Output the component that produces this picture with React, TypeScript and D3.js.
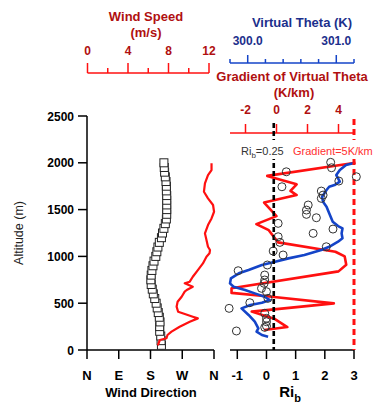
import * as d3 from "d3";
import React from "react";

// altitude (m) / wind direction (deg)
const dirAlt = [50, 100, 150, 200, 250, 300, 350, 400, 450, 500, 550, 600, 650, 700, 750, 800, 850, 900, 950, 1000, 1050, 1100, 1150, 1200, 1250, 1300, 1350, 1400, 1450, 1500, 1550, 1600, 1650, 1700, 1750, 1800, 1850, 1900, 1950, 2000];
const dirDeg = [211, 210, 209, 206, 206, 207, 205, 202, 199, 196, 192, 188, 185, 182, 181, 182, 184, 187, 190, 195, 198, 201, 205, 211, 214, 218, 222, 225, 226, 226, 226, 226, 226, 225, 225, 224, 222, 220, 219, 218];

// altitude (m) / wind speed (m/s)
const wsAlt = [50, 80, 107, 125, 160, 196, 249, 302, 338, 356, 374, 409, 463, 516, 569, 623, 641, 676, 712, 730, 783, 854, 925, 997, 1033, 1068, 1103, 1175, 1246, 1335, 1406, 1477, 1549, 1620, 1691, 1780, 1869, 1922, 1994];
const wsVal = [6.95, 7.05, 7.15, 7.8, 7.9, 8.3, 9.1, 10.1, 10.9, 10.4, 9.9, 8.95, 8.8, 8.9, 9.3, 9.6, 9.8, 10.4, 9.6, 10.1, 10.4, 10.9, 11.4, 11.75, 12.05, 12.1, 11.9, 11.75, 11.6, 11.9, 12.25, 12.5, 12.4, 11.9, 11.5, 11.6, 11.9, 12.25, 12.25];

// altitude (m) / virtual potential temperature (K)
const thAlt = [142, 160, 196, 231, 302, 374, 445, 481, 505, 534, 569, 605, 641, 676, 712, 765, 819, 854, 908, 943, 979, 1014, 1068, 1103, 1157, 1193, 1246, 1299, 1324, 1371, 1460, 1531, 1584, 1637, 1709, 1744, 1762, 1798, 1869, 1922, 1976, 2001];
const thVal = [300.23, 300.16, 300.1, 300.12, 300.08, 300.01, 299.93, 300.03, 300.16, 300.25, 300.19, 300.08, 299.97, 299.84, 299.8, 299.81, 299.9, 300.01, 300.16, 300.31, 300.46, 300.64, 300.83, 300.92, 301.02, 301.07, 301.06, 301.07, 301.02, 300.96, 300.92, 300.89, 300.85, 300.84, 300.89, 300.92, 300.98, 301.04, 301.0, 301.04, 301.11, 301.21];

// altitude (m) / gradient of virtual theta (K/km)
const grAlt = [214, 245, 330, 410, 498, 569, 610, 660, 840, 910, 1000, 1050, 1150, 1280, 1345, 1430, 1575, 1655, 1700, 1770, 1860, 2000];
const grVal = [-0.8, 0.7, -0.1, -1.6, 3.7, -0.3, -2.9, -2.9, 4.0, 4.5, 4.4, 3.8, 0.1, -0.5, -1.3, 0.0, -0.8, 1.3, 0.9, 1.3, -0.6, 5.1];

// altitude (m) / bulk Richardson number
const riAlt = [2005, 1947, 1904, 1851, 1805, 1744, 1698, 1655, 1620, 1549, 1495, 1449, 1413, 1353, 1292, 1246, 1210, 1150, 1103, 1057, 1015, 908, 847, 801, 748, 712, 659, 623, 552, 505, 445, 392, 338, 302, 256, 242, 203];
const riVal = [2.2, 2.23, 0.68, 3.08, 2.48, 0.53, 1.88, 1.94, 1.88, 1.43, 1.37, 1.37, 1.71, 0.4, 2.28, 1.6, 0.4, 0.46, 2.05, 0.23, 0.57, 0.03, -0.97, -0.06, -0.06, -0.08, -0.17, 0.0, 0.05, -0.57, -1.28, -0.06, 0.0, 0.0, 0.0, -0.06, -1.03];

const altTicks = [0, 500, 1000, 1500, 2000, 2500];
const dirTicks = [0, 90, 180, 270, 360];
const dirLabels = ["N", "E", "S", "W", "N"];
const riTicks = [-1, 0, 1, 2, 3];
const wsTicks = [0, 2, 4, 6, 8, 10, 12];
const wsLabels = [0, 4, 8, 12];
const thTicks = [299.8, 300.0, 300.2, 300.4, 300.6, 300.8, 301.0, 301.2];
const thLabels = [300.0, 301.0];
const grTicks = [-2, 0, 2, 4];
const riCrit = 0.25;
const grCrit = 5;

const FONT = "'Liberation Sans', Arial, sans-serif";
const RED = "#ff1010";
const DARKRED = "#b01010";
const BLUE = "#1444c8";
const DARKBLUE = "#1c2f8c";

export default function App() {
  const yAlt = d3.scaleLinear().domain([0, 2500]).range([350, 116]);
  const xDir = d3.scaleLinear().domain([0, 360]).range([87, 214]);
  const xWs = d3.scaleLinear().domain([0, 12]).range([87.5, 209]);
  const xRi = d3.scaleLinear().domain([-1.25, 3]).range([230, 354]);
  const xTh = d3.scaleLinear().domain([299.8, 301.2]).range([230, 354]);
  const xGr = d3.scaleLinear().domain([-3, 5]).range([230, 354]);

  const wsLine = d3.line<number>().x((d) => xWs(d)).y((_, i) => yAlt(wsAlt[i]));
  const thLine = d3.line<number>().x((d) => xTh(d)).y((_, i) => yAlt(thAlt[i]));
  const grLine = d3.line<number>().x((d) => xGr(d)).y((_, i) => yAlt(grAlt[i]));

  const yTop = 123;
  const yBase = yAlt(0);

  return (
    <div style={{ position: "absolute", left: 0, top: 0 }}>
      <svg width={379} height={405} style={{ display: "block", fontFamily: FONT }}>
        <rect width={379} height={405} fill="#fff" />

        {/* wind speed top axis */}
        <g>
          <text x={146} y={21} textAnchor="middle" fontSize={13} fontWeight="bold" fill={DARKRED}>Wind Speed</text>
          <text x={146} y={37} textAnchor="middle" fontSize={13} fontWeight="bold" fill={DARKRED}>(m/s)</text>
          <line x1={xWs(0)} x2={xWs(12)} y1={73} y2={73} stroke={RED} strokeWidth={1.5} />
          {wsTicks.map((t) => (
            <line key={t} x1={xWs(t)} x2={xWs(t)} y1={73} y2={wsLabels.includes(t) ? 63 : 68} stroke={RED} strokeWidth={1.5} />
          ))}
          {wsLabels.map((t) => (
            <text key={t} x={xWs(t)} y={55} textAnchor="middle" fontSize={12} fontWeight="bold" fill={DARKRED}>{t}</text>
          ))}
        </g>

        {/* virtual theta top axis */}
        <g>
          <text x={302} y={27} textAnchor="middle" fontSize={13} fontWeight="bold" fill={DARKBLUE}>Virtual Theta (K)</text>
          <line x1={xTh(299.8)} x2={xTh(301.2)} y1={63} y2={63} stroke={BLUE} strokeWidth={1.5} />
          {thTicks.map((t) => (
            <line key={t} x1={xTh(t)} x2={xTh(t)} y1={63} y2={thLabels.some((l) => Math.abs(l - t) < 1e-6) ? 55 : 59} stroke={BLUE} strokeWidth={1.5} />
          ))}
          {thLabels.map((t) => (
            <text key={t} x={xTh(t)} y={45} textAnchor="middle" fontSize={12} fontWeight="bold" fill={DARKBLUE}>{t.toFixed(1)}</text>
          ))}
        </g>

        {/* gradient top axis */}
        <g>
          <text x={292} y={81} textAnchor="middle" fontSize={13} fontWeight="bold" fill={DARKRED}>Gradient of Virtual Theta</text>
          <text x={294} y={97} textAnchor="middle" fontSize={13} fontWeight="bold" fill={DARKRED}>(K/km)</text>
          <line x1={xGr(-3)} x2={xGr(5)} y1={133} y2={133} stroke={RED} strokeWidth={1.5} />
          {grTicks.map((t) => (
            <line key={t} x1={xGr(t)} x2={xGr(t)} y1={133} y2={124} stroke={RED} strokeWidth={1.5} />
          ))}
          {grTicks.map((t) => (
            <text key={t} x={xGr(t)} y={114} textAnchor="middle" fontSize={12} fontWeight="bold" fill={DARKRED}>{t < 0 ? `-${Math.abs(t)}` : t}</text>
          ))}
        </g>

        {/* left y axis */}
        <g>
          <line x1={87} x2={87} y1={yAlt(2500)} y2={yBase} stroke="#000" strokeWidth={1.5} />
          {altTicks.map((t) => (
            <g key={t}>
              <line x1={78} x2={87} y1={yAlt(t)} y2={yAlt(t)} stroke="#000" strokeWidth={1.5} />
              <text x={74} y={yAlt(t) + 4.5} textAnchor="end" fontSize={12} fontWeight="bold">{t}</text>
            </g>
          ))}
          <text transform={`translate(23,${yAlt(1250)}) rotate(-90)`} textAnchor="middle" fontSize={12.5} fill="#222">Altitude (m)</text>
        </g>

        {/* left panel bottom axis */}
        <g>
          <line x1={xDir(0)} x2={xDir(360)} y1={yBase} y2={yBase} stroke="#000" strokeWidth={1.5} />
          {dirTicks.map((t, i) => (
            <g key={i}>
              <line x1={xDir(t)} x2={xDir(t)} y1={yBase} y2={yBase + 9} stroke="#000" strokeWidth={1.5} />
              <text x={xDir(t)} y={380} textAnchor="middle" fontSize={13} fontWeight="bold">{dirLabels[i]}</text>
            </g>
          ))}
          <text x={151} y={397} textAnchor="middle" fontSize={13} fontWeight="bold">Wind Direction</text>
        </g>

        {/* right panel bottom axis */}
        <g>
          <line x1={xRi(-1.25)} x2={xRi(3)} y1={yBase} y2={yBase} stroke="#000" strokeWidth={1.5} />
          {riTicks.map((t) => (
            <g key={t}>
              <line x1={xRi(t)} x2={xRi(t)} y1={yBase} y2={yBase + 9} stroke="#000" strokeWidth={1.5} />
              <text x={xRi(t)} y={380} textAnchor="middle" fontSize={13} fontWeight="bold">{t < 0 ? `-${Math.abs(t)}` : t}</text>
            </g>
          ))}
          <text x={290} y={397} textAnchor="middle" fontSize={15} fontWeight="bold">
            Ri<tspan fontSize={11} dy={5}>b</tspan>
          </text>
        </g>

        {/* wind direction squares */}
        <g>
          {dirDeg.map((d, i) => (
            <rect key={i} x={xDir(d) - 4} y={yAlt(dirAlt[i]) - 4} width={8} height={8} fill="#fff" stroke="#222" strokeWidth={1} />
          ))}
        </g>

        {/* wind speed */}
        <path d={wsLine(wsVal) ?? ""} fill="none" stroke={RED} strokeWidth={2.2} strokeLinejoin="round" />

        {/* gradient & theta */}
        <path d={grLine(grVal) ?? ""} fill="none" stroke={RED} strokeWidth={2.6} strokeLinejoin="round" />
        <path d={thLine(thVal) ?? ""} fill="none" stroke={BLUE} strokeWidth={2.6} strokeLinejoin="round" />

        {/* critical lines */}
        <line x1={xRi(riCrit)} x2={xRi(riCrit)} y1={yTop} y2={yBase} stroke="#000" strokeWidth={2.6} strokeDasharray="5,3" />
        <line x1={xGr(grCrit)} x2={xGr(grCrit)} y1={yTop - 4} y2={yBase} stroke={RED} strokeWidth={3} strokeDasharray="6,4" />

        {/* legend box (white background hides dashed lines) */}
        <rect x={238} y={140} width={141} height={19} fill="#fff" />
        <text x={241} y={155} fontSize={11} fill="#333">
          Ri<tspan fontSize={8} dy={3}>b</tspan><tspan dy={-3}>=0.25</tspan>
        </text>
        <text x={293} y={155} fontSize={11} fill="#ff3030">Gradient=5K/km</text>

        {/* Ri_b points */}
        <g>
          {riVal.map((r, i) => (
            <circle key={i} cx={xRi(r)} cy={yAlt(riAlt[i])} r={4} fill="none" stroke="#333" strokeWidth={1} />
          ))}
        </g>
      </svg>
    </div>
  );
}
